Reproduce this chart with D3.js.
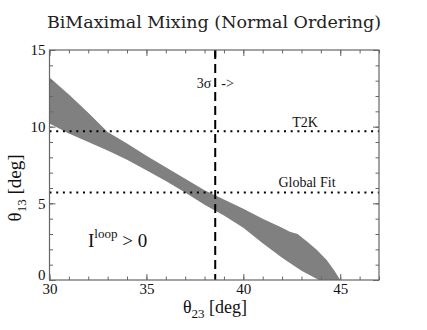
<!DOCTYPE html>
<html>
<head>
<meta charset="utf-8">
<script src="https://cdn.jsdelivr.net/npm/d3@7"></script>
<style>
  body { margin: 0; background: #fff; }
</style>
</head>
<body>
<div id="chart"></div>
<script>
// upper edge of the allowed band (theta23, theta13) in degrees
var upperT23 = [30, 31, 32, 33, 34, 35, 36, 37, 38, 39, 40, 41, 42, 42.4, 42.8, 43.3, 43.8, 44.3, 44.7, 45];
var upperT13 = [13.2, 12.1, 10.9, 9.65, 8.9, 8.1, 7.35, 6.6, 5.85, 5.25, 4.65, 4.0, 3.4, 3.15, 3.0, 2.5, 1.95, 1.3, 0.6, 0];
// lower edge
var lowerT23 = [30, 31, 32, 33, 34, 35, 36, 37, 38, 39, 40, 41, 42, 43, 43.9];
var lowerT13 = [10.2, 9.55, 9.0, 8.45, 7.85, 7.15, 6.45, 5.7, 4.9, 4.2, 3.4, 2.4, 1.45, 0.6, 0];

var t2kLevel = 9.7;      // T2K dotted line
var globalFitLevel = 5.7; // Global Fit dotted line
var sigma3 = 38.55;      // 3 sigma dashed line

var xMajor = [30, 35, 40, 45];
var yMajor = [0, 5, 10, 15];

var serif = "Liberation Serif, serif";

function init(){
    var w = 427, h = 330;
    var left = 49.5, right = 379, top = 50, bottom = 280;

    var x = d3.scaleLinear().domain([30, 47]).range([left, right]);
    var y = d3.scaleLinear().domain([0, 15]).range([bottom, top]);

    var svg = d3.select("#chart").append("svg")
        .attr("width", w)
        .attr("height", h)
        .style("font-family", serif);

    // band polygon
    var pts = upperT23.map(function(d, i){ return [d, upperT13[i]]; });
    for (var i = lowerT23.length - 1; i >= 0; i--) pts.push([lowerT23[i], lowerT13[i]]);
    svg.append("path")
        .attr("d", d3.line().x(function(d){ return x(d[0]); }).y(function(d){ return y(d[1]); })(pts) + "Z")
        .attr("fill", "#808080");

    // dotted reference lines
    [t2kLevel, globalFitLevel].forEach(function(v){
        svg.append("line")
            .attr("x1", x(30)).attr("x2", x(47))
            .attr("y1", y(v)).attr("y2", y(v))
            .attr("stroke", "#000")
            .attr("stroke-width", 2)
            .attr("stroke-dasharray", "2,4.7");
    });

    // dashed 3 sigma line
    svg.append("line")
        .attr("x1", x(sigma3)).attr("x2", x(sigma3))
        .attr("y1", y(15)).attr("y2", y(0))
        .attr("stroke", "#000")
        .attr("stroke-width", 2)
        .attr("stroke-dasharray", "9,5");

    // axes, ticks pointing inward on all four sides
    function styleAxis(g){
        g.select(".domain").remove();
        g.selectAll(".tick line").attr("stroke", "#666").attr("stroke-width", 1);
        g.selectAll("text").style("font-family", serif).attr("font-size", 15).attr("fill", "#111");
    }
    var minorX = d3.range(30, 48, 1), minorY = d3.range(0, 16, 1);

    svg.append("g").attr("transform", "translate(0," + bottom + ")")
        .call(d3.axisBottom(x).tickValues(minorX).tickSize(-3.5).tickFormat("")).call(styleAxis);
    svg.append("g").attr("transform", "translate(0," + bottom + ")")
        .call(d3.axisBottom(x).tickValues(xMajor).tickSize(-6).tickPadding(3).tickFormat(d3.format("d"))).call(styleAxis);
    svg.append("g").attr("transform", "translate(0," + top + ")")
        .call(d3.axisTop(x).tickValues(minorX).tickSize(-3.5).tickFormat("")).call(styleAxis);
    svg.append("g").attr("transform", "translate(0," + top + ")")
        .call(d3.axisTop(x).tickValues(xMajor).tickSize(-6).tickFormat("")).call(styleAxis);

    svg.append("g").attr("transform", "translate(" + left + ",0)")
        .call(d3.axisLeft(y).tickValues(minorY).tickSize(-3.5).tickFormat("")).call(styleAxis);
    var yAx = svg.append("g").attr("transform", "translate(" + left + ",0)")
        .call(d3.axisLeft(y).tickValues(yMajor).tickSize(-6).tickPadding(4).tickFormat(d3.format("d"))).call(styleAxis);
    // the zero label sits slightly above the corner, as in the original
    yAx.selectAll(".tick text").filter(function(d){ return d === 0; }).attr("dy", "-0.05em");
    svg.append("g").attr("transform", "translate(" + right + ",0)")
        .call(d3.axisRight(y).tickValues(minorY).tickSize(-3.5).tickFormat("")).call(styleAxis);
    svg.append("g").attr("transform", "translate(" + right + ",0)")
        .call(d3.axisRight(y).tickValues(yMajor).tickSize(-6).tickFormat("")).call(styleAxis);

    // short solid tick where the dashed line meets the frame
    svg.append("line")
        .attr("x1", x(sigma3)).attr("x2", x(sigma3))
        .attr("y1", top).attr("y2", top + 7)
        .attr("stroke", "#000").attr("stroke-width", 2);

    // frame
    svg.append("rect")
        .attr("x", left).attr("y", top)
        .attr("width", right - left).attr("height", bottom - top)
        .attr("fill", "none")
        .attr("stroke", "#666")
        .attr("stroke-width", 1.2);

    // title
    svg.append("text")
        .attr("x", 214).attr("y", 28)
        .attr("text-anchor", "middle")
        .style("font-family", "DejaVu Serif, serif")
        .attr("font-size", 17.5)
        .attr("fill", "#222")
        .text("BiMaximal Mixing (Normal Ordering)");

    // x axis title
    var xt = svg.append("text")
        .attr("x", 215).attr("y", 313)
        .attr("text-anchor", "middle")
        .attr("font-size", 18)
        .attr("fill", "#111");
    xt.append("tspan").text("θ");
    xt.append("tspan").attr("font-size", 13).attr("dy", 5).text("23");
    xt.append("tspan").attr("dy", -5).text(" [deg]");

    // y axis title
    var yt = svg.append("text")
        .attr("transform", "translate(21,188) rotate(-90)")
        .attr("text-anchor", "middle")
        .attr("font-size", 19)
        .attr("fill", "#111");
    yt.append("tspan").text("θ");
    yt.append("tspan").attr("font-size", 13).attr("dy", 5).text("13");
    yt.append("tspan").attr("dy", -5).text(" [deg]");

    // annotations
    svg.append("text")
        .attr("x", x(sigma3) - 4).attr("y", 88)
        .attr("text-anchor", "end")
        .attr("font-size", 14)
        .attr("fill", "#111")
        .text("3σ");
    svg.append("text")
        .attr("x", x(sigma3) + 6).attr("y", 88)
        .attr("font-size", 14)
        .attr("fill", "#111")
        .text("->");

    svg.append("text")
        .attr("x", 305).attr("y", 127)
        .attr("text-anchor", "middle")
        .attr("font-size", 14)
        .attr("fill", "#111")
        .text("T2K");
    svg.append("text")
        .attr("x", 307).attr("y", 187)
        .attr("text-anchor", "middle")
        .attr("font-size", 14)
        .attr("fill", "#111")
        .text("Global Fit");

    var it = svg.append("text")
        .attr("x", 88).attr("y", 247)
        .attr("font-size", 19)
        .attr("fill", "#111");
    it.append("tspan").text("I");
    it.append("tspan").attr("font-size", 13).attr("dy", -9).text("loop");
    it.append("tspan").attr("dy", 9).text(" > 0");
}
window.onload = init;
</script>
</body>
</html>
